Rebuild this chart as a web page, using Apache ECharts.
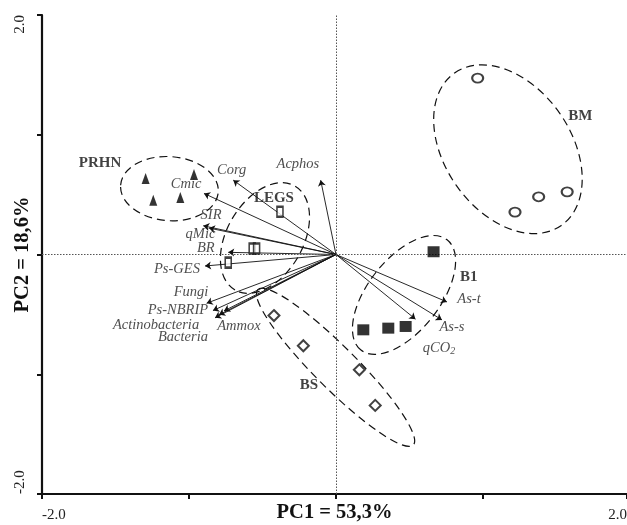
<!DOCTYPE html>
<html>
<head>
<meta charset="utf-8">
<script src="https://cdn.jsdelivr.net/npm/echarts@6/dist/echarts.min.js"></script>
<style>html,body{margin:0;padding:0;background:#fff;}#c{width:627px;height:525px;}</style>
</head>
<body>
<div id="c"></div>
<script>
// ---- data ----
const xTickLabels = ['-2.0', '2.0'];
const yTickLabels = ['-2.0', '2.0'];
const xName = 'PC1 = 53,3%';
const yName = 'PC2 = 18,6%';

// sample scores per group
const PRHN = [[-1.295, 0.635], [-0.966, 0.668], [-1.243, 0.454], [-1.059, 0.477]];
const LEGS = [[-0.381, 0.357], [-0.57, 0.05], [-0.54, 0.05], [-0.733, -0.068]];
const BM   = [[0.964, 1.473], [1.379, 0.482], [1.573, 0.523], [1.218, 0.354]];
const B1   = [[0.664, 0.023], [0.186, -0.629], [0.356, -0.615], [0.474, -0.601]];
const BS   = [[-0.422, -0.51], [-0.222, -0.762], [0.159, -0.963], [0.267, -1.26]];

// group names and label anchors (data units)
const groupNames = ['PRHN', 'LEGS', 'BM', 'B1', 'BS'];
const groupLabelX = [-1.605, -0.422, 1.663, 0.903, -0.184];
const groupLabelY = [0.7625, 0.471, 1.154, -0.1875, -1.093];

// group envelopes: centre x, centre y, semi-axes (x units), angle (deg, ccw)
const ellCx = [-1.133, -0.483, 1.170, 0.463, -0.003];
const ellCy = [0.55, 0.1375, 0.879, -0.3375, -0.942];
const ellA  = [0.333, 0.408, 0.633, 0.476, 0.748];
const ellB  = [0.218, 0.259, 0.429, 0.245, 0.143];
const ellAng = [-4, 60, -55, 52, -45];

// variable loadings (arrow tips) and label anchors
const varNames = ['Corg', 'Cmic', 'SIR', 'qMic', 'BR', 'Ps-GES', 'Fungi', 'Ps-NBRIP',
  'Actinobacteria', 'Bacteria', 'Ammox', 'Acphos', 'As-t', 'As-s', 'qCO2'];
const tipX = [-0.699, -0.898, -0.903, -0.864, -0.733, -0.891, -0.880, -0.837,
  -0.823, -0.796, -0.762, -0.104, 0.755, 0.721, 0.541];
const tipY = [0.621, 0.51, 0.24, 0.221, 0.018, -0.096, -0.407, -0.468,
  -0.529, -0.504, -0.471, 0.621, -0.396, -0.546, -0.54];
const varLabelX = [-0.710, -1.020, -0.850, -0.922, -0.886, -1.082, -0.986, -1.075,
  -1.224, -1.041, -0.660, -0.259, 0.905, 0.789, 0.701];
const varLabelY = [0.704, 0.5875, 0.325, 0.171, 0.054, -0.121, -0.317, -0.4625,
  -0.5875, -0.6875, -0.596, 0.754, -0.371, -0.604, -0.779];

// ---- chart ----
const FONT = '"Liberation Serif", "DejaVu Serif", serif';
const chart = echarts.init(document.getElementById('c'), null, {renderer: 'canvas'});

const ellipseData = ellCx.map((c, i) => [c, ellCy[i], ellA[i], ellB[i], ellAng[i]]);

const option = {
  animation: false,
  backgroundColor: '#fff',
  grid: {left: 42, right: 0, top: 15, bottom: 31, containLabel: false, outerBoundsMode: 'none'},
  xAxis: {
    type: 'value', min: -2, max: 1.98, interval: 1,
    position: 'bottom',
    axisLine: {onZero: false, lineStyle: {color: '#111', width: 2.2}},
    axisTick: {show: true, length: 5, lineStyle: {color: '#111', width: 2}},
    splitLine: {show: false},
    axisLabel: {
      margin: 14, fontFamily: FONT, fontSize: 15, color: '#222',
      alignMinLabel: 'left', alignMaxLabel: 'right',
      showMinLabel: true, showMaxLabel: true,
      formatter: v => (v <= -2 ? xTickLabels[0] : (v >= 1.97 ? xTickLabels[1] : ''))
    },
    name: xName, nameLocation: 'middle', nameGap: 8, nameMoveOverlap: false,
    nameTextStyle: {fontFamily: FONT, fontSize: 20.5, fontWeight: 'bold', color: '#111'}
  },
  yAxis: {
    type: 'value', min: -2, max: 2, interval: 1,
    position: 'left',
    axisLine: {onZero: false, lineStyle: {color: '#111', width: 2.2}},
    axisTick: {show: true, length: 5, lineStyle: {color: '#111', width: 2}},
    splitLine: {show: false},
    axisLabel: {
      rotate: 90, margin: 14, fontFamily: FONT, fontSize: 15, color: '#222',
      alignMinLabel: 'left', alignMaxLabel: 'right',
      showMinLabel: true, showMaxLabel: true,
      formatter: v => (v <= -2 ? yTickLabels[0] : (v >= 2 ? yTickLabels[1] : ''))
    },
    name: yName, nameLocation: 'middle', nameGap: 9, nameRotate: 90, nameMoveOverlap: false,
    nameTextStyle: {fontFamily: FONT, fontSize: 20.5, fontWeight: 'bold', color: '#111'}
  },
  series: [
    {
      type: 'custom', z: 2, silent: true,
      data: ellipseData,
      renderItem: function (params, api) {
        const c = api.coord([api.value(0), api.value(1)]);
        const rx = api.size([api.value(2), 0])[0];
        const ry = api.size([api.value(3), 0])[0];
        return {
          type: 'ellipse',
          x: c[0], y: c[1],
          rotation: api.value(4) * Math.PI / 180,
          shape: {cx: 0, cy: 0, rx: rx, ry: ry},
          style: {fill: 'none', stroke: '#111', lineWidth: 1.2, lineDash: [8, 5]}
        };
      }
    },
    {
      type: 'lines', coordinateSystem: 'cartesian2d', z: 3, silent: true,
      symbol: ['none', 'arrow'], symbolSize: 6,
      lineStyle: {color: '#111', width: 0.9, opacity: 1},
      data: varNames.map((n, i) => ({name: n, coords: [[0, 0], [tipX[i], tipY[i]]]}))
    },
    {
      type: 'scatter', name: 'PRHN', z: 5, data: PRHN,
      symbol: 'triangle', symbolSize: [8, 11],
      itemStyle: {color: '#000'},
      markLine: {
        silent: true, symbol: 'none', label: {show: false},
        lineStyle: {type: [1.5, 1.5], color: '#555', width: 1},
        data: [{xAxis: 0}, {yAxis: 0}]
      }
    },
    {
      type: 'scatter', name: 'LEGS', z: 5, data: LEGS,
      symbol: 'rect', symbolSize: [6, 10],
      itemStyle: {color: '#fff', borderColor: '#111', borderWidth: 2}
    },
    {
      type: 'scatter', name: 'BM', z: 5, data: BM,
      symbol: 'path://M0,5A6,5,0,1,1,12,5A6,5,0,1,1,0,5Z', symbolSize: [11, 9],
      itemStyle: {color: '#fff', borderColor: '#111', borderWidth: 2}
    },
    {
      type: 'scatter', name: 'B1', z: 5, data: B1,
      symbol: 'rect', symbolSize: [12, 11],
      itemStyle: {color: '#000'}
    },
    {
      type: 'scatter', name: 'BS', z: 5, data: BS,
      symbol: 'diamond', symbolSize: [11, 11],
      itemStyle: {color: '#fff', borderColor: '#111', borderWidth: 2}
    },
    {
      type: 'scatter', z: 6, silent: true,
      symbolSize: 0, itemStyle: {color: 'rgba(0,0,0,0)'},
      data: varNames.map((n, i) => ({name: n, value: [varLabelX[i], varLabelY[i]]})),
      label: {
        show: true, position: 'inside',
        fontFamily: FONT, fontSize: 14.5, fontStyle: 'italic', color: '#222',
        formatter: p => (p.name === 'qCO2' ? 'qCO{s|2}' : p.name),
        rich: {s: {fontFamily: FONT, fontSize: 10, fontStyle: 'italic', color: '#222', padding: [7, 0, 0, 0]}}
      }
    },
    {
      type: 'scatter', z: 6, silent: true,
      symbolSize: 0, itemStyle: {color: 'rgba(0,0,0,0)'},
      data: groupNames.map((n, i) => ({name: n, value: [groupLabelX[i], groupLabelY[i]]})),
      label: {
        show: true, position: 'inside', formatter: '{b}',
        fontFamily: FONT, fontSize: 15, fontWeight: 'bold', color: '#111'
      }
    }
  ]
};
chart.setOption(option);
</script>
</body>
</html>
